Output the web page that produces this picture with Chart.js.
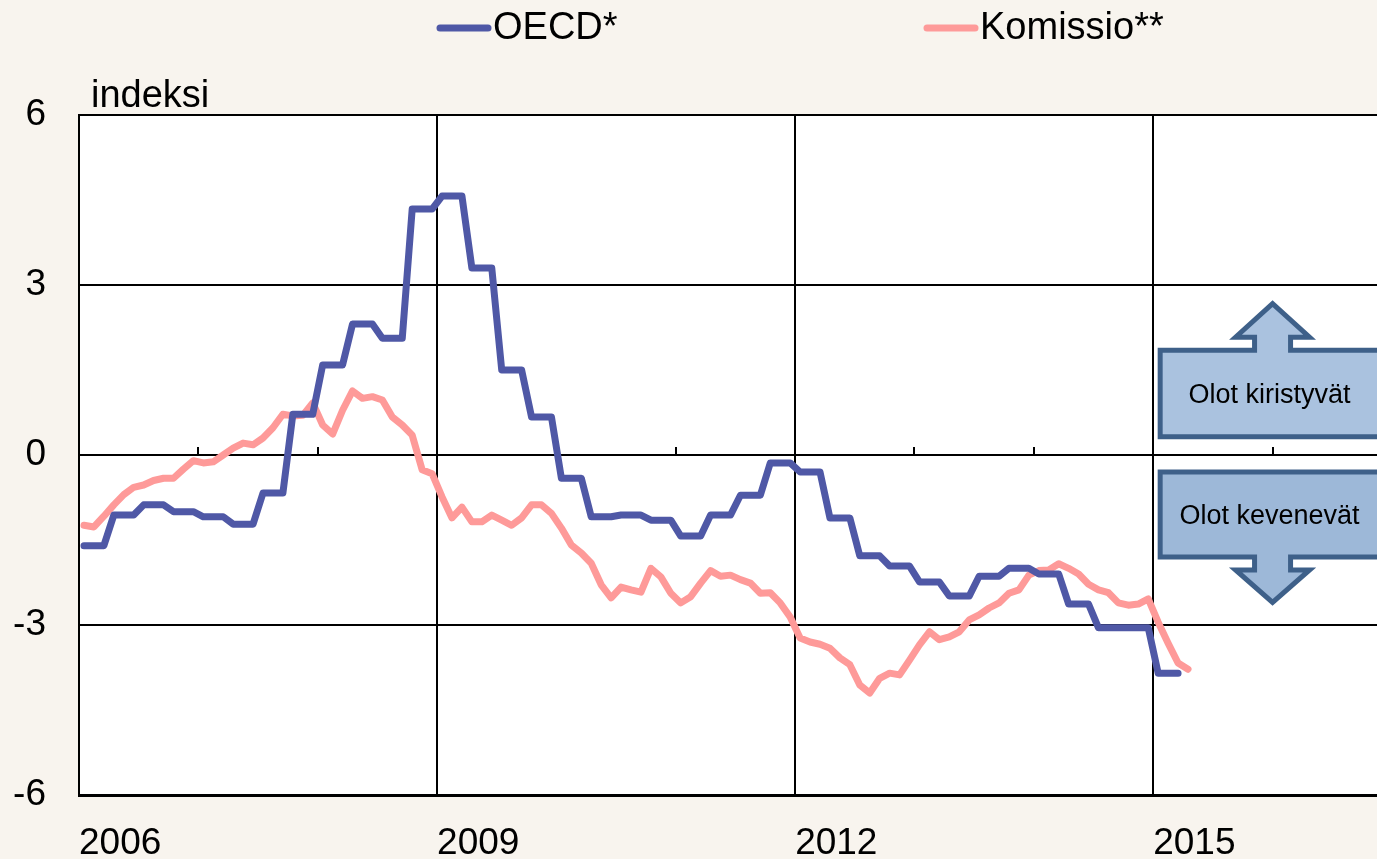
<!DOCTYPE html>
<html>
<head>
<meta charset="utf-8">
<script src="https://cdn.jsdelivr.net/npm/chart.js@4.4.1/dist/chart.umd.min.js"></script>
<style>
  html, body { margin: 0; padding: 0; background: #f8f4ee; }
  #wrap { width: 1377px; height: 859px; position: relative; }
  canvas { display: block; }
</style>
</head>
<body>
<div id="wrap"><canvas id="c" width="1377" height="859"></canvas></div>
<script>
// ---- Data (monthly, starting January 2006) ----
const startYear = 2006;
const seriesNames = ['OECD*', 'Komissio**'];

// OECD* (quarterly index shown monthly), Jan 2006 – Mar 2015
const oecd = [
  -1.60, -1.60, -1.60, -1.06, -1.06, -1.06, -0.88, -0.88, -0.88, -1.00, -1.00, -1.00,
  -1.09, -1.09, -1.09, -1.22, -1.22, -1.22, -0.67, -0.67, -0.67, 0.72, 0.72, 0.72,
  1.59, 1.59, 1.59, 2.31, 2.31, 2.31, 2.06, 2.06, 2.06, 4.34, 4.34, 4.34,
  4.57, 4.57, 4.57, 3.30, 3.30, 3.30, 1.50, 1.50, 1.50, 0.67, 0.67, 0.67,
  -0.41, -0.41, -0.41, -1.09, -1.09, -1.09, -1.06, -1.06, -1.06, -1.15, -1.15, -1.15,
  -1.43, -1.43, -1.43, -1.06, -1.06, -1.06, -0.71, -0.71, -0.71, -0.14, -0.14, -0.14,
  -0.30, -0.30, -0.30, -1.11, -1.11, -1.11, -1.78, -1.78, -1.78, -1.96, -1.96, -1.96,
  -2.24, -2.24, -2.24, -2.49, -2.49, -2.49, -2.14, -2.14, -2.14, -2.00, -2.00, -2.00,
  -2.10, -2.10, -2.10, -2.63, -2.63, -2.63, -3.05, -3.05, -3.05, -3.05, -3.05, -3.05,
  -3.85, -3.85, -3.85
];

// Komissio** (monthly), Jan 2006 – Apr 2015
const komissio = [
  -1.24, -1.27, -1.08, -0.88, -0.70, -0.57, -0.53, -0.45, -0.41, -0.41, -0.25, -0.10,
  -0.14, -0.12, 0.00, 0.12, 0.21, 0.18, 0.30, 0.48, 0.72, 0.69, 0.70, 0.92,
  0.53, 0.37, 0.79, 1.13, 1.00, 1.03, 0.97, 0.67, 0.53, 0.35, -0.26, -0.33,
  -0.74, -1.11, -0.92, -1.18, -1.18, -1.06, -1.15, -1.24, -1.11, -0.88, -0.88, -1.03,
  -1.29, -1.59, -1.73, -1.91, -2.29, -2.52, -2.33, -2.38, -2.42, -2.00, -2.15, -2.44,
  -2.61, -2.50, -2.26, -2.04, -2.14, -2.12, -2.20, -2.26, -2.44, -2.43, -2.61, -2.86,
  -3.23, -3.30, -3.34, -3.41, -3.58, -3.70, -4.06, -4.20, -3.94, -3.85, -3.88, -3.62,
  -3.35, -3.12, -3.26, -3.21, -3.12, -2.91, -2.82, -2.70, -2.61, -2.44, -2.38, -2.12,
  -2.04, -2.03, -1.92, -2.00, -2.10, -2.28, -2.38, -2.43, -2.61, -2.65, -2.63, -2.54,
  -2.95, -3.32, -3.67, -3.78
];

// Axis ticks (months since Jan 2006)
const xTickMonths = [0, 36, 72, 108];
const xTickLabels = ['2006', '2009', '2012', '2015'];
const xMinorTickMonths = [12, 24, 48, 60, 84, 96, 120];
const yTicks = [-6, -3, 0, 3, 6];
const yTitle = 'indeksi';
const calloutTexts = ['Olot kiristyvät', 'Olot kevenevät'];

const colors = ['#4f58a6', '#fe9a99'];
const FONT = "'Liberation Sans', Arial, sans-serif";

// months are plotted at mid-month positions
const toPoints = arr => arr.map((v, i) => ({ x: i + 0.5, y: v }));

const bgPlugin = {
  id: 'plotBg',
  beforeDraw(chart) {
    const { ctx, chartArea: a } = chart;
    ctx.save();
    ctx.fillStyle = '#ffffff';
    ctx.fillRect(a.left, a.top, a.right - a.left, a.bottom - a.top);
    ctx.restore();
  }
};

const decoPlugin = {
  id: 'deco',
  beforeDatasetsDraw(chart) {
    const { ctx, scales: { x, y } } = chart;
    // minor ticks on the zero line
    ctx.save();
    ctx.strokeStyle = '#000';
    ctx.lineWidth = 2;
    const y0 = y.getPixelForValue(0);
    xMinorTickMonths.forEach(m => {
      const px = Math.round(x.getPixelForValue(m));
      ctx.beginPath();
      ctx.moveTo(px, y0);
      ctx.lineTo(px, y0 - 8);
      ctx.stroke();
    });
    ctx.restore();
  },
  afterDraw(chart) {
    const { ctx, chartArea: a, scales: { x, y } } = chart;
    ctx.save();
    // legend
    ctx.font = '38px ' + FONT;
    ctx.textBaseline = 'middle';
    ctx.textAlign = 'left';
    const legendX = [438, 925];
    seriesNames.forEach((name, i) => {
      ctx.strokeStyle = colors[i];
      ctx.lineWidth = 7;
      ctx.lineCap = 'round';
      ctx.beginPath();
      ctx.moveTo(legendX[i] + 2, 28);
      ctx.lineTo(legendX[i] + 50, 28);
      ctx.stroke();
      ctx.fillStyle = '#000';
      ctx.fillText(name, legendX[i] + 55, 29);
    });
    // axis title
    ctx.textBaseline = 'alphabetic';
    ctx.fillText(yTitle, 91, 107);

    // callout arrows
    const cx = x.getPixelForValue(120);
    const L = x.getPixelForValue(108.7);
    const R = a.right + 20;
    const sh = 18, hd = 37;
    ctx.lineWidth = 5;
    ctx.lineJoin = 'miter';
    ctx.strokeStyle = '#3e6089';
    // up
    let T = y.getPixelForValue(1.85), B = y.getPixelForValue(0.32);
    let hb = T - 13, tip = y.getPixelForValue(2.67);
    ctx.beginPath();
    ctx.moveTo(L, T); ctx.lineTo(cx - sh, T); ctx.lineTo(cx - sh, hb); ctx.lineTo(cx - hd, hb);
    ctx.lineTo(cx, tip); ctx.lineTo(cx + hd, hb); ctx.lineTo(cx + sh, hb); ctx.lineTo(cx + sh, T);
    ctx.lineTo(R, T); ctx.lineTo(R, B); ctx.lineTo(L, B); ctx.closePath();
    ctx.fillStyle = '#aac2df';
    ctx.fill(); ctx.stroke();
    ctx.fillStyle = '#000';
    ctx.font = '27px ' + FONT;
    ctx.textAlign = 'center';
    ctx.textBaseline = 'middle';
    ctx.fillText(calloutTexts[0], cx - 3, (T + B) / 2 + 2);
    // down
    T = y.getPixelForValue(-0.30); B = y.getPixelForValue(-1.80);
    hb = B + 13; tip = y.getPixelForValue(-2.60);
    ctx.beginPath();
    ctx.moveTo(L, T); ctx.lineTo(R, T); ctx.lineTo(R, B); ctx.lineTo(cx + sh, B); ctx.lineTo(cx + sh, hb);
    ctx.lineTo(cx + hd, hb); ctx.lineTo(cx, tip); ctx.lineTo(cx - hd, hb); ctx.lineTo(cx - sh, hb);
    ctx.lineTo(cx - sh, B); ctx.lineTo(L, B); ctx.closePath();
    ctx.fillStyle = '#9db8d8';
    ctx.fill(); ctx.stroke();
    ctx.fillStyle = '#000';
    ctx.fillText(calloutTexts[1], cx - 3, (T + B) / 2 + 2);
    ctx.restore();
  }
};

new Chart(document.getElementById('c'), {
  type: 'line',
  data: {
    datasets: [
      { label: seriesNames[0], data: toPoints(oecd), borderColor: colors[0], backgroundColor: colors[0],
        borderWidth: 7, pointRadius: 0, tension: 0, borderCapStyle: 'round', borderJoinStyle: 'round' },
      { label: seriesNames[1], data: toPoints(komissio), borderColor: colors[1], backgroundColor: colors[1],
        borderWidth: 7, pointRadius: 0, tension: 0, borderCapStyle: 'round', borderJoinStyle: 'round' }
    ]
  },
  options: {
    responsive: false,
    animation: false,
    layout: { padding: { top: 115, left: 0, right: 0, bottom: 0 } },
    plugins: { legend: { display: false }, tooltip: { enabled: false } },
    scales: {
      x: {
        type: 'linear', min: 0, max: 130.5,
        afterBuildTicks: s => { s.ticks = xTickMonths.map(v => ({ value: v })); },
        ticks: {
          autoSkip: false, maxRotation: 0, minRotation: 0, align: 'start',
          color: '#000', font: { family: FONT, size: 37 }, padding: 27,
          callback: v => xTickLabels[xTickMonths.indexOf(v)] ?? ''
        },
        grid: { color: '#000', lineWidth: 2, drawTicks: false },
        border: { color: '#000', width: 3 },
        afterFit: s => { s.height = 64; s.paddingLeft = 0; s.paddingRight = 0; }
      },
      y: {
        min: -6, max: 6,
        afterBuildTicks: s => { s.ticks = yTicks.map(v => ({ value: v })); },
        ticks: { color: '#000', font: { family: FONT, size: 37 }, padding: 33 },
        grid: { color: '#000', lineWidth: 2, drawTicks: false },
        border: { color: '#000', width: 2 },
        afterFit: s => { s.width = 79; s.paddingTop = 0; s.paddingBottom = 0; }
      }
    }
  },
  plugins: [bgPlugin, decoPlugin]
});
</script>
</body>
</html>
